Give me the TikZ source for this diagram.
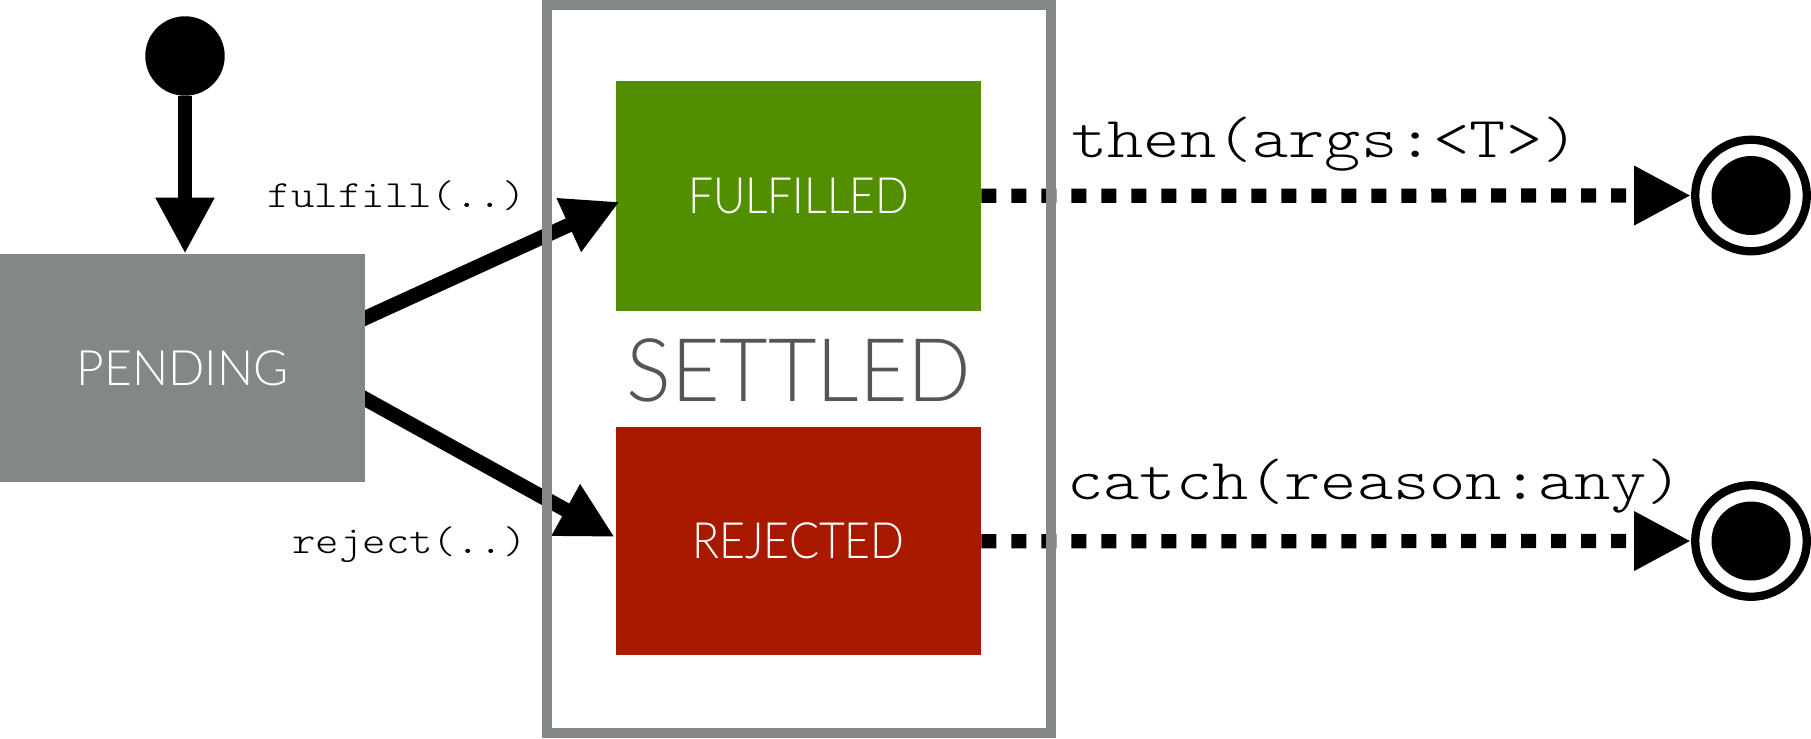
\documentclass[tikz,border=0pt]{standalone}
\usepackage{fontspec}
\newfontfamily\gill{Lato Light}
\newfontfamily\cour{Latin Modern Mono Light}
\usetikzlibrary{arrows.meta}
\pgfdeclarelayer{front}
\pgfsetlayers{main,front}
\definecolor{pgray}{RGB}{131,136,134}
\definecolor{fgreen}{RGB}{82,143,0}
\definecolor{rred}{RGB}{169,25,0}
\definecolor{stext}{RGB}{85,85,85}
\newcommand{\wide}[1]{\scalebox{1.19}[1]{#1}}
\newcommand{\widesm}[1]{\scalebox{1.16}[1]{#1}}
\tikzset{
 statebox/.style={rectangle, minimum width=7.3cm, inner sep=0, text=white, font=\gill\fontsize{28.5}{30}\selectfont},
 conn/.style={line width=8.3pt, -{Triangle[length=1.12cm,width=1.1cm]}},
 dotconn/.style={line width=8.1pt, dash pattern=on 0.3cm off 0.3cm, -{Triangle[length=1.14cm,width=1.11cm]}},
 codelbl/.style={inner sep=0, font=\cour\fontsize{21.9}{24}\selectfont},
 biglbl/.style={inner sep=0, font=\cour\fontsize{33}{36}\selectfont},
 endring/.style={circle, draw=black, line width=4.72pt, minimum size=2.232cm, inner sep=0},
 enddot/.style={circle, fill=black, minimum size=1.58cm, inner sep=0},
}
\begin{document}
\begin{tikzpicture}[x=0.02cm,y=-0.02cm]
\useasboundingbox (0,0) rectangle (1811,738);
% states
\node[circle, fill=black, minimum size=1.59cm, inner sep=0] (start) at (185,56) {};
\begin{pgfonlayer}{front}
\node[statebox, fill=pgray, minimum height=4.56cm, font=\gill\fontsize{27.8}{30}\selectfont] (pending) at (182.5,368) {\scalebox{0.98}[1]{PENDING}};
\end{pgfonlayer}
\node[statebox, fill=fgreen, minimum height=4.59cm] (fulfilled) at (798.5,195.8) {\scalebox{0.887}[1]{FULFILLED}};
\node[statebox, fill=rred, minimum height=4.57cm] (rejected) at (798.5,541.25) {\scalebox{0.89}[1]{REJECTED}};
\node[inner sep=0, anchor=base, text=stext, font=\gill\fontsize{50}{52}\selectfont] (settledlbl) at (799,401) {\scalebox{0.954}[1]{SETTLED}};
\node[endring] (end1) at (1751,195.5) {};
\node[enddot] (dot1) at (end1) {};
\node[endring] (end2) at (1751,541) {};
\node[enddot] (dot2) at (end2) {};
% labels
\node[codelbl, anchor=base east] (lblf) at (526,207) {\widesm{fulfill(..)}};
\node[codelbl, anchor=base east] (lblr) at (527,553) {\widesm{reject(..)}};
\node[biglbl, anchor=base west] (lblthen) at (1071,157.5) {\wide{then(args:<T>)}};
\node[biglbl, anchor=base west] (lblcatch) at (1067,499) {\wide{catch(reason:any)}};
% connectors
\draw[conn] (start) -- (start |- pending.north);
\draw[conn] ([xshift=-0.364cm,yshift=0.834cm]pending.east) -- ([xshift=0.08cm,yshift=-0.12cm]fulfilled.west);
\draw[conn] ([xshift=-0.35cm,yshift=-0.426cm]pending.east) -- ([xshift=-0.02cm,yshift=0.085cm]rejected.west);
\draw[dotconn] (fulfilled.east) -- (end1);
\draw[dotconn] (rejected.east) -- (end2);
% settled frame
\begin{pgfonlayer}{front}
\node[draw=pgray, line width=5.69pt, minimum width=10.08cm, minimum height=14.56cm, inner sep=0] (settled) at (799,369) {};
\end{pgfonlayer}
\end{tikzpicture}
\end{document}
